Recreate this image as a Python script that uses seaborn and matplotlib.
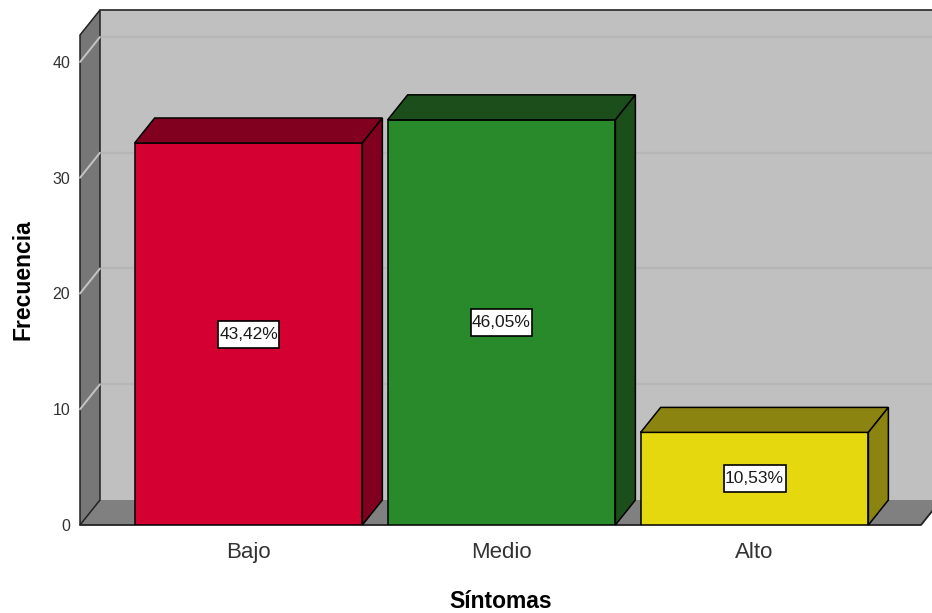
import matplotlib
matplotlib.use("Agg")
import matplotlib.pyplot as plt
import seaborn as sns
import pandas as pd
from matplotlib.patches import Polygon, Rectangle
from matplotlib.transforms import IdentityTransform
from matplotlib.lines import Line2D

# ---- data ----
categories = ["Bajo", "Medio", "Alto"]
counts = [33, 35, 8]
y_ticks = [0, 10, 20, 30, 40]
front_colors = ["#d50032", "#288a2b", "#e5d80f"]
dark_colors = ["#81001f", "#1c4e1b", "#8c8410"]
x_title = "Síntomas"
y_title = "Frecuencia"

sns.set_style("white")
plt.rcParams["font.family"] = ["Liberation Sans", "DejaVu Sans"]

W, H = 932, 613
fig = plt.figure(figsize=(W / 100, H / 100), dpi=100)
ax = fig.add_axes([80 / W, 88 / H, 841 / W, 490 / H])

df = pd.DataFrame({"cat": categories, "n": counts})
sns.barplot(data=df, x="cat", y="n", hue="cat", palette=front_colors,
            saturation=1, width=0.9, edgecolor="black", linewidth=1.1,
            legend=False, ax=ax, zorder=2)

ax.set_xlim(-0.666, 2.658)
ax.set_ylim(0, 42.33)
ax.set_autoscale_on(False)
ax.patch.set_visible(False)
for s in ax.spines.values():
    s.set_visible(False)
ax.grid(False)

DX, DY = 20, 25
ident = IdentityTransform()
T = ax.transData.transform

xl, yb = T((-0.666, 0))
xr, yt = T((2.658, 42.33))

bar_patches = list(ax.patches)

# back wall
back = Polygon([(xl + DX, yb + DY), (xl + DX, yt + DY), (xr + DX, yt + DY), (xr + DX, yb + DY)],
               closed=True, fc="#c0c0c0", ec="none", transform=ident, clip_on=False, zorder=0.1)
ax.add_patch(back)
ax.add_line(Line2D([xl + DX, xr + DX], [yt + DY, yt + DY], color="#333333", lw=1.3,
                   transform=ident, clip_on=False, zorder=0.5))
# gridlines
for t in y_ticks[1:]:
    _, yy = T((0, t))
    ax.add_line(Line2D([xl + DX, xr + DX], [yy + DY, yy + DY], color="#b6b6b6", lw=1.6,
                       transform=ident, clip_on=False, zorder=0.2))
# floor
floor = Polygon([(xl, yb), (xl + DX, yb + DY), (xr + DX, yb + DY), (xr, yb)],
                closed=True, fc="#808080", ec="none", transform=ident, clip_on=False, zorder=0.3)
ax.add_patch(floor)
ax.add_line(Line2D([xl, xr, xr + DX], [yb, yb, yb + DY], color="#222222", lw=1.3,
                   transform=ident, clip_on=False, zorder=0.6))
# left wall
left = Polygon([(xl, yb), (xl, yt), (xl + DX, yt + DY), (xl + DX, yb + DY)],
               closed=True, fc="#777777", ec="#222222", lw=1.1, transform=ident,
               clip_on=False, zorder=0.4)
ax.add_patch(left)
for t in y_ticks[1:]:
    _, yy = T((0, t))
    ax.add_line(Line2D([xl, xl + DX], [yy, yy + DY], color="#c4c4c4", lw=1.4,
                       transform=ident, clip_on=False, zorder=0.45))

# 3D faces of bars + percentage labels
renderer = fig.canvas.get_renderer()
total = sum(counts)
for i, p in enumerate(bar_patches):
    x0, x1 = p.get_x(), p.get_x() + p.get_width()
    h = p.get_height()
    (px0, py0) = T((x0, 0))
    (px1, pyh) = T((x1, h))
    top = Polygon([(px0, pyh), (px1, pyh), (px1 + DX, pyh + DY), (px0 + DX, pyh + DY)],
                  closed=True, fc=dark_colors[i], ec="black", lw=1.1, transform=ident,
                  clip_on=False, zorder=2.1)
    side = Polygon([(px1, py0), (px1, pyh), (px1 + DX, pyh + DY), (px1 + DX, py0 + DY)],
                   closed=True, fc=dark_colors[i], ec="black", lw=1.1, transform=ident,
                   clip_on=False, zorder=2.1)
    ax.add_patch(top)
    ax.add_patch(side)
    pct = f"{counts[i] / total * 100:.2f}%".replace(".", ",")
    txt = ax.text((x0 + x1) / 2, h / 2, pct, ha="center", va="center", fontsize=12.5,
                  color="#1a1a1a", zorder=4)
    ext = txt.get_window_extent(renderer)
    cx, cy = T(((x0 + x1) / 2, h / 2))
    bw, bh = ext.width + 3, 27
    ax.add_patch(Rectangle((cx - bw / 2, cy - bh / 2), bw, bh, fc="white", ec="black",
                           lw=1.2, transform=ident, clip_on=False, zorder=3.5))

ax.set_yticks(y_ticks)
ax.set_yticklabels([str(t) for t in y_ticks])
ax.set_xticks(range(len(categories)))
ax.set_xticklabels(categories)
ax.tick_params(axis="y", length=0, pad=7, labelsize=11.5, labelcolor="#333333")
ax.tick_params(axis="x", length=0, pad=12, labelsize=16, labelcolor="#333333")
ax.set_xlabel(x_title, fontsize=16.5, fontweight="bold", labelpad=20, color="black")
ax.set_ylabel(y_title, fontsize=16.5, fontweight="bold", labelpad=13, color="black")

fig.savefig("out.png", dpi=100)
